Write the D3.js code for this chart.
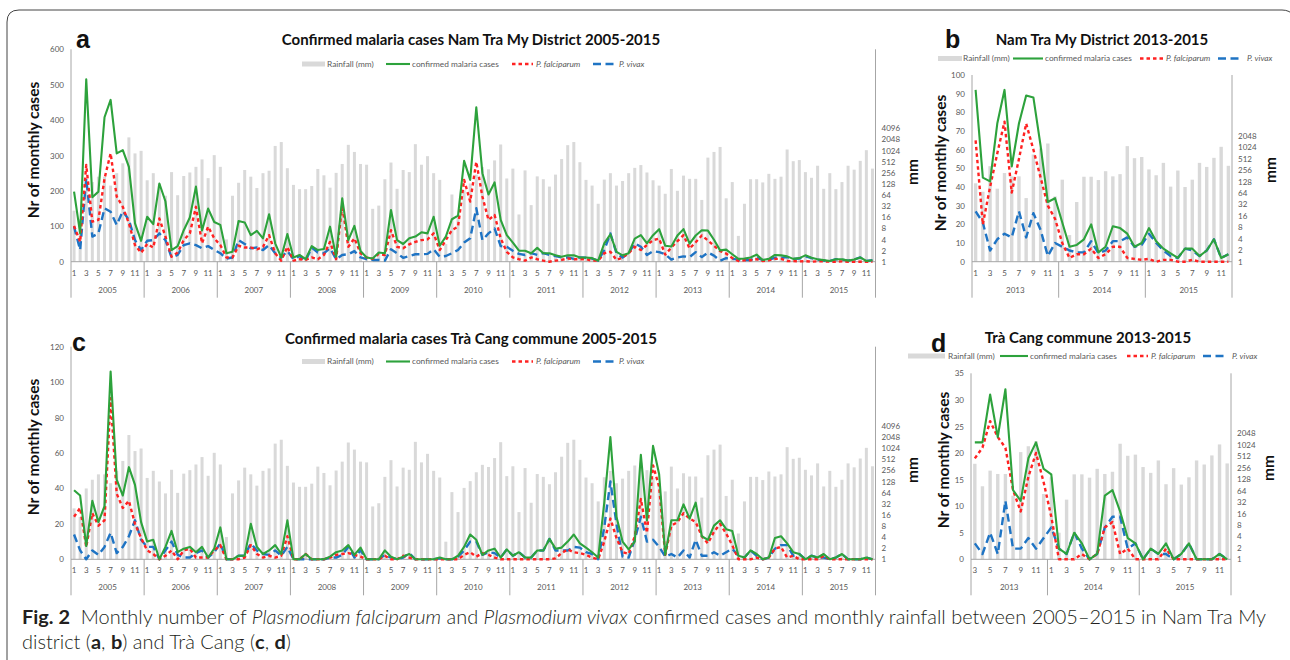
<!DOCTYPE html>
<html>
<head>
<meta charset="utf-8">
<script src="https://cdn.jsdelivr.net/npm/d3@7"></script>
<style>
  html, body { margin: 0; padding: 0; background: #fff; }
  svg { display: block; }
  text { font-family: Lato, "Open Sans", sans-serif; }
</style>
</head>
<body>
<script>
// ---------------- DATA ----------------
const years = [2005, 2006, 2007, 2008, 2009, 2010, 2011, 2012, 2013, 2014, 2015];
const monthNumbers = [1, 2, 3, 4, 5, 6, 7, 8, 9, 10, 11, 12];

// Monthly rainfall (mm), Jan 2005 – Dec 2015
const rainfallMm = [
  24, 14, 83, 143, 200, 200, 115, 249, 461, 2320, 855, 1003,
  160, 249, 128, 61, 266, 63, 209, 260, 370, 588, 183, 766,
  370, 4, 61, 137, 304, 200, 99, 249, 290, 1360, 1734, 340,
  120, 92, 92, 112, 324, 218, 101, 254, 442, 1458, 936, 442,
  422, 27, 33, 171, 484, 94, 304, 266, 1520, 422, 719, 249,
  164, 3, 66, 19, 86, 131, 228, 362, 317, 552, 1489, 179,
  331, 19, 296, 34, 204, 171, 108, 228, 601, 1428, 1734, 494,
  164, 115, 37, 167, 249, 115, 153, 249, 347, 413, 260, 160,
  115, 69, 324, 83, 214, 175, 175, 47, 657, 936, 1278, 52,
  143, 5, 37, 171, 171, 140, 239, 175, 200, 1090, 526, 564,
  266, 187, 396, 94, 249, 92, 143, 396, 310, 537, 1045, 331
];

// Nam Tra My district
const namTraMyTotal = [
  198, 80, 515, 182, 198, 408, 457, 306, 315, 268, 108, 59,
  127, 106, 221, 170, 33, 44, 89, 125, 212, 88, 150, 112,
  104, 24, 28, 115, 111, 75, 87, 66, 134, 52, 12, 78,
  12, 19, 7, 44, 33, 36, 99, 14, 179, 61, 101, 30,
  12, 9, 26, 24, 146, 61, 50, 66, 71, 83, 80, 127,
  45, 71, 120, 130, 285, 231, 436, 250, 190, 224, 118, 75,
  54, 31, 31, 24, 39, 24, 24, 18, 14, 18, 18, 12,
  12, 10, 3, 52, 77, 28, 18, 24, 65, 75, 52, 75,
  92, 45, 43, 74, 92, 51, 74, 89, 88, 62, 32, 34,
  21, 8, 9, 12, 20, 5, 8, 19, 18, 15, 8, 10,
  18, 11, 7, 4.5, 2, 7, 7, 3, 6, 12, 2, 4
];
const namTraMyPf = [
  101, 56, 273, 113, 118, 235, 306, 184, 155, 108, 47, 25,
  50, 40, 122, 71, 14, 26, 61, 80, 155, 52, 99, 66,
  47, 12, 12, 45, 40, 40, 35, 42, 75, 24, 3, 42,
  3, 7, 5, 12, 7, 19, 56, 7, 160, 42, 66, 24,
  12, 8, 22, 19, 89, 42, 38, 49, 56, 61, 63, 80,
  33, 61, 89, 99, 231, 170, 282, 184, 118, 132, 66, 28,
  12, 7, 3, 12, 7, 3, 0, 3, 5, 9, 7, 7,
  7, 3, 3, 24, 28, 5, 12, 24, 42, 33, 47, 61,
  65, 20, 40, 58, 75, 37, 55, 74, 60, 45, 30, 23,
  10, 2, 4, 4, 7, 2, 4, 8, 8, 2, 1.5, 1,
  1.5, 0, 1, 1, 0, 0, 1, 0, 0, 0, 0, 0
];
const namTraMyPv = [
  99, 33, 235, 71, 80, 151, 141, 104, 143, 118, 61, 33,
  59, 61, 80, 61, 12, 19, 47, 52, 47, 38, 44, 33,
  24, 9, 12, 61, 50, 38, 40, 33, 47, 24, 12, 30,
  7, 16, 3, 40, 26, 24, 38, 7, 19, 21, 30, 12,
  7, 5, 5, 3, 35, 24, 11, 16, 21, 21, 22, 35,
  14, 16, 24, 33, 54, 66, 151, 61, 80, 94, 44, 42,
  31, 22, 19, 24, 19, 24, 19, 16, 12, 12, 8, 12,
  11, 9, 3, 33, 80, 24, 12, 24, 52, 42, 19, 30,
  27, 21, 6, 12, 15, 13, 27, 13, 26, 17, 3, 10,
  8, 6, 5, 5, 11, 4.5, 6, 11, 11, 13, 8, 9,
  15, 10, 6, 3, 2, 7, 6, 3, 6, 12, 2, 4
];

// Trà Cang commune
const traCangTotal = [
  39, 36, 7.5, 33, 21, 30, 106, 45, 36, 52, 42, 21,
  10, 11, 0, 7, 16, 4, 6, 7, 4, 7, 1, 6,
  18, 0, 0, 2, 2, 20, 7, 3, 5, 8, 3, 22,
  0, 0, 3, 0, 0, 0, 1.5, 4, 5, 8, 2.5, 6.6,
  0, 0, 0, 5, 1.5, 0, 1.5, 3, 0, 0, 0, 0,
  1, 0, 0, 2, 7, 14, 11, 2.5, 5, 6, 1, 5.6,
  2, 4, 1, 1, 5, 5, 11.5, 6, 6.6, 10, 14, 9,
  6.6, 4, 1, 32, 69, 24, 10, 5.6, 10, 59, 22, 64,
  48, 2.5, 22, 22, 31, 23, 32, 13, 11, 19, 22, 17,
  16, 2, 1, 5, 3, 0, 1, 12, 13, 9, 4, 3,
  0, 2, 1, 3, 0, 1, 3, 0, 0, 0, 1, 0
];
const traCangPf = [
  24, 29, 7, 26, 19, 22, 91, 37, 29, 33, 20, 12,
  5, 3, 0, 2, 5, 0, 5, 6, 1, 1, 1, 5,
  8, 0, 0, 0, 1, 8, 3, 1, 2, 1, 2, 13,
  0, 0, 3, 0, 0, 0, 1, 2.5, 3, 3.5, 2.5, 1.5,
  0, 0, 0, 2, 0, 0, 2, 1, 0, 0, 0, 0,
  0, 0, 0, 0, 2.5, 4, 1.5, 3.5, 2.5, 1, 0, 0,
  0, 0, 0, 0, 0, 0, 0, 0.5, 3.5, 5.6, 4, 3.5,
  2.5, 1, 0, 10, 23, 12, 4, 3, 13, 34, 15, 53,
  41, 2.5, 19, 21, 26, 23, 21, 13, 9, 15.5, 20, 14.5,
  8, 0, 0, 0, 1, 0, 1, 6, 7, 1, 2, 0,
  0, 0, 0, 2, 0, 0, 0, 0, 0, 0, 0, 0
];
const traCangPv = [
  14, 5, 0, 5, 2.5, 7, 15, 3.5, 7, 13, 22, 11,
  7, 7, 0, 5, 10, 2.5, 1, 1, 3.5, 5, 1, 4,
  9, 0, 0, 2, 2, 9, 5, 3, 2.5, 5, 2, 7,
  0, 0, 0, 0, 0, 0, 1, 1, 2.5, 7, 1, 5,
  0, 0, 0, 2.5, 1, 0, 1, 3.5, 0, 0, 0, 0,
  0.5, 0, 0, 1.5, 5, 10, 10, 2.5, 4, 3.5, 1, 5.6,
  2, 4, 1, 1, 5, 5, 11.5, 5, 5, 5, 7, 6.6,
  4, 3, 0, 18, 44, 20, 1.5, 1, 11, 24, 10, 11,
  7, 1.5, 3, 1, 5, 1, 11, 2, 2, 4, 2, 4,
  6, 2, 1, 5, 2, 0, 1, 6, 8, 8, 2, 3,
  0, 2, 1, 1, 0, 1, 3, 0, 0, 0, 1, 0
];

const rainTicksLong = [1, 2, 4, 8, 16, 32, 64, 128, 256, 512, 1024, 2048, 4096];
const rainTicksShort = [1, 2, 4, 8, 16, 32, 64, 128, 256, 512, 1024, 2048];
const legendLabels = ["Rainfall (mm)", "confirmed malaria cases", "P. falciparum", "P. vivax"];

// ---------------- STYLE ----------------
const GREEN = "#2da23c", RED = "#ff2222", BLUE = "#1f74c4", BAR = "#d9d9d9";
const AXIS = "#a6a6a6", LABEL = "#595959";

const svg = d3.select("body").append("svg").attr("width", 1290).attr("height", 660);

// frame
svg.append("path")
  .attr("d", "M7,668 L7,22 Q7,10 19,10 L1282,10 Q1290,10 1294,16")
  .attr("fill", "none").attr("stroke", "#444").attr("stroke-width", 1);

// build month records
const allMonths = [];
years.forEach(y => monthNumbers.forEach(m => allMonths.push({ year: y, month: m })));

function drawPanel(p) {
  const idx = d3.range(p.start, allMonths.length);
  const g = svg.append("g");
  const x = d3.scaleBand().domain(idx).range([p.x0, p.x1]).padding(0);
  const bw = x.bandwidth();
  const cx = i => x(i) + bw / 2;
  const y = d3.scaleLinear().domain([0, p.yMax]).range([p.yBot, p.yTop]);
  const yr = d3.scaleLog().base(2).domain([1, Math.pow(2, p.rainExpTop)]).range([p.yBot, p.yTop]);

  // rainfall bars
  g.append("g").selectAll("rect").data(idx).join("rect")
    .attr("x", i => cx(i) - p.barW / 2)
    .attr("width", p.barW)
    .attr("y", i => yr(rainfallMm[i]))
    .attr("height", i => yr(1) - yr(rainfallMm[i]))
    .attr("fill", BAR);

  // left axis
  const la = g.append("g").attr("transform", `translate(${p.x0},0)`)
    .call(d3.axisLeft(y).tickValues(d3.range(0, p.yMax + 0.001, p.yStep)).tickSize(0).tickPadding(7));
  la.select(".domain").remove();
  la.selectAll("text").attr("fill", LABEL).style("font-size", "8px").style("font-family", "Lato");
  // right axis
  const ra = g.append("g").attr("transform", `translate(${p.x1},0)`)
    .call(d3.axisRight(yr).tickValues(p.rainTicks).tickFormat(d3.format("d")).tickSize(0).tickPadding(6));
  ra.select(".domain").remove();
  ra.selectAll("text").attr("fill", LABEL).style("font-size", "8px").style("font-family", "Lato");

  // axis lines
  g.append("line").attr("x1", p.x0).attr("x2", p.x0).attr("y1", p.yTop).attr("y2", p.yBot + 36)
    .attr("stroke", AXIS);
  g.append("line").attr("x1", p.x1).attr("x2", p.x1).attr("y1", p.yTop).attr("y2", p.yBot + 36)
    .attr("stroke", AXIS);
  g.append("line").attr("x1", p.x0).attr("x2", p.x1).attr("y1", p.yBot).attr("y2", p.yBot)
    .attr("stroke", AXIS);

  // month labels
  g.append("g").selectAll("text").data(idx.filter(i => allMonths[i].month % 2 === 1)).join("text")
    .attr("x", cx).attr("y", p.yBot + 14).attr("text-anchor", "middle")
    .attr("fill", LABEL).style("font-size", "8px")
    .text(i => allMonths[i].month);

  // year groups
  const yearsShown = years.filter(yv => idx.some(i => allMonths[i].year === yv));
  yearsShown.forEach(yv => {
    const ii = idx.filter(i => allMonths[i].year === yv);
    const xs = x(ii[0]), xe = x(ii[ii.length - 1]) + bw;
    g.append("text").attr("x", (xs + xe) / 2).attr("y", p.yBot + 31).attr("text-anchor", "middle")
      .attr("fill", LABEL).style("font-size", "8px").text(yv);
    if (xs > p.x0 + 1) {
      g.append("line").attr("x1", xs).attr("x2", xs).attr("y1", p.yBot).attr("y2", p.yBot + 36)
        .attr("stroke", AXIS);
    }
  });

  // lines
  const line = d3.line().x(d => cx(d.i)).y(d => y(d.v));
  const series = [
    { arr: p.pv, color: BLUE, dash: "8,4.5", w: 2.4 },
    { arr: p.pf, color: RED, dash: "3.5,3", w: 2.4 },
    { arr: p.total, color: GREEN, dash: null, w: 2.1 }
  ];
  series.forEach(s => {
    g.append("path").datum(idx.map(i => ({ i, v: s.arr[i] })))
      .attr("d", line).attr("fill", "none").attr("stroke", s.color)
      .attr("stroke-width", s.w).attr("stroke-dasharray", s.dash)
      .attr("stroke-linejoin", "round");
  });

  // titles
  g.append("text").attr("x", p.titleX).attr("y", p.titleY).attr("text-anchor", "middle")
    .style("font-size", "15px").style("font-weight", 700).attr("fill", "#111").text(p.title);
  g.append("text").attr("x", p.letterX).attr("y", p.letterY)
    .style("font-family", "'Liberation Sans', Arial, sans-serif")
    .style("font-size", "25px").style("font-weight", 700).attr("fill", "#111").text(p.letter);
  g.append("text").attr("transform", `translate(${p.yTitleX},${p.yTitleY}) rotate(-90)`)
    .attr("text-anchor", "middle").style("font-size", "15.5px").style("font-weight", 700)
    .attr("fill", "#111").text("Nr of monthly cases");
  g.append("text").attr("transform", `translate(${p.mmX},${p.mmY}) rotate(-90)`)
    .attr("text-anchor", "middle").style("font-size", "15.5px").style("font-weight", 700)
    .attr("fill", "#111").text("mm");

  // legend
  const L = p.legend, ly = p.legendY;
  const fs = "8.3px";
  g.append("rect").attr("x", L[0]).attr("y", ly - 2.5).attr("width", L[1] - L[0]).attr("height", 5).attr("fill", BAR);
  g.append("text").attr("x", L[2]).attr("y", ly + 2.9).attr("fill", LABEL).style("font-size", fs).text(legendLabels[0]);
  g.append("line").attr("x1", L[3]).attr("x2", L[4]).attr("y1", ly).attr("y2", ly).attr("stroke", GREEN).attr("stroke-width", 2.1);
  g.append("text").attr("x", L[5]).attr("y", ly + 2.9).attr("fill", LABEL).style("font-size", fs).text(legendLabels[1]);
  g.append("line").attr("x1", L[6]).attr("x2", L[7]).attr("y1", ly).attr("y2", ly).attr("stroke", RED).attr("stroke-width", 2.4).attr("stroke-dasharray", "3.5,3");
  g.append("text").attr("x", L[8]).attr("y", ly + 2.9).attr("fill", LABEL).style("font-size", fs).style("font-style", "italic").text(legendLabels[2]);
  g.append("line").attr("x1", L[9]).attr("x2", L[10]).attr("y1", ly).attr("y2", ly).attr("stroke", BLUE).attr("stroke-width", 2.4).attr("stroke-dasharray", "8,4.5");
  g.append("text").attr("x", L[11]).attr("y", ly + 2.9).attr("fill", LABEL).style("font-size", fs).style("font-style", "italic").text(legendLabels[3]);
}

drawPanel({
  start: 0, x0: 71, x1: 875.5, yTop: 49.3, yBot: 261.7, yMax: 600, yStep: 100,
  rainExpTop: 19.1, rainTicks: rainTicksLong, barW: 3,
  total: namTraMyTotal, pf: namTraMyPf, pv: namTraMyPv,
  title: "Confirmed malaria cases Nam Tra My District 2005-2015", titleX: 471, titleY: 45,
  letter: "a", letterX: 76, letterY: 48, yTitleX: 39, yTitleY: 150, mmX: 918, mmY: 172,
  legendY: 64, legend: [302, 325, 327, 386, 410, 412, 512, 533, 536, 593, 615, 619]
});
drawPanel({
  start: 96, x0: 972, x1: 1232, yTop: 75, yBot: 261.7, yMax: 100, yStep: 10,
  rainExpTop: 16.3, rainTicks: rainTicksShort, barW: 3.4,
  total: namTraMyTotal, pf: namTraMyPf, pv: namTraMyPv,
  title: "Nam Tra My District 2013-2015", titleX: 1102, titleY: 45,
  letter: "b", letterX: 945, letterY: 48, yTitleX: 946, yTitleY: 163, mmX: 1276, mmY: 170,
  legendY: 58.5, legend: [938, 962, 963, 1013, 1043, 1045, 1140, 1163, 1166, 1218, 1243, 1247]
});
drawPanel({
  start: 0, x0: 71, x1: 875.5, yTop: 346.7, yBot: 559.3, yMax: 120, yStep: 20,
  rainExpTop: 19.13, rainTicks: rainTicksLong, barW: 3,
  total: traCangTotal, pf: traCangPf, pv: traCangPv,
  title: "Confirmed malaria cases Trà Cang commune 2005-2015", titleX: 471, titleY: 344,
  letter: "c", letterX: 72, letterY: 351, yTitleX: 39, yTitleY: 447, mmX: 918, mmY: 470,
  legendY: 361.5, legend: [302, 325, 327, 386, 410, 412, 512, 533, 536, 593, 615, 619]
});
drawPanel({
  start: 98, x0: 971, x1: 1231, yTop: 373.3, yBot: 559.3, yMax: 35, yStep: 5,
  rainExpTop: 16.24, rainTicks: rainTicksShort, barW: 3.4,
  total: traCangTotal, pf: traCangPf, pv: traCangPv,
  title: "Trà Cang commune 2013-2015", titleX: 1088, titleY: 343,
  letter: "d", letterX: 931, letterY: 352, yTitleX: 949, yTitleY: 460, mmX: 1274, mmY: 468,
  legendY: 356, legend: [908, 945, 948, 1000, 1028, 1030, 1127, 1148, 1151, 1203, 1227, 1232]
});

// ---------------- CAPTION ----------------
const capFont = "Lato, 'Open Sans', sans-serif";
function capLine(yPos, parts) {
  const t = svg.append("text").attr("x", 22).attr("y", yPos)
    .style("font-family", capFont).style("font-size", "19px").style("font-weight", 300)
    .attr("fill", "#231f20");
  parts.forEach(([s, style]) => {
    const ts = t.append("tspan").text(s);
    if (style === "b") ts.style("font-weight", 700);
    if (style === "i") ts.style("font-style", "italic");
  });
  return t;
}
const cap1 = capLine(624, [
  ["Fig. 2", "b"], ["\u00a0 Monthly number of ", ""], ["Plasmodium falciparum", "i"], [" and ", ""],
  ["Plasmodium vivax", "i"], [" confirmed cases and monthly rainfall between 2005–2015 in Nam Tra My", ""]
]);
const cap2 = capLine(649, [
  ["district (", ""], ["a", "b"], [", ", ""], ["b", "b"], [") and Trà Cang (", ""], ["c", "b"], [", ", ""], ["d", "b"], [")", ""]
]);
const n1 = cap1.node().getComputedTextLength();
const f = 1244 / n1;
cap1.attr("textLength", 1244).attr("lengthAdjust", "spacingAndGlyphs");
cap2.attr("textLength", cap2.node().getComputedTextLength() * f).attr("lengthAdjust", "spacingAndGlyphs");
</script>
</body>
</html>
